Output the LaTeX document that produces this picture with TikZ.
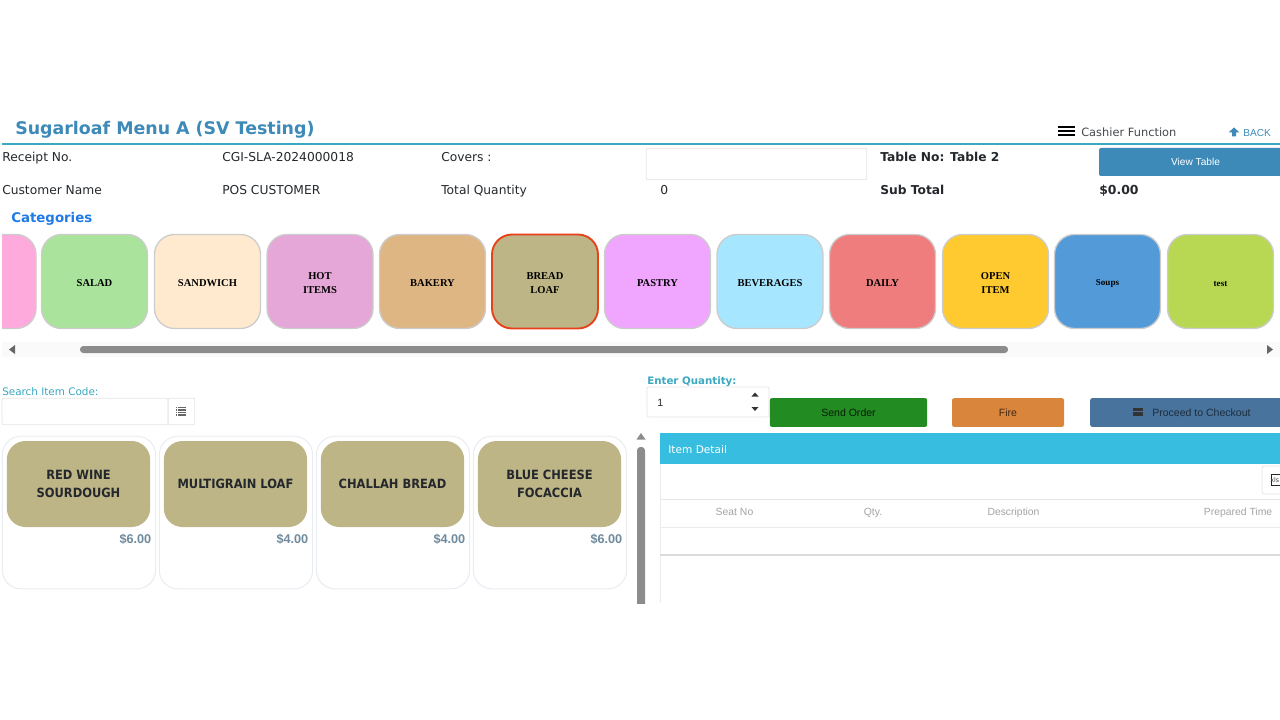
\documentclass[tikz,border=0pt]{standalone}
\usepackage{fontspec}
\usepackage{xcolor}
\usetikzlibrary{positioning, shapes.geometric}
\setmainfont{DejaVu Sans}
\newfontfamily\tilefont{Liberation Serif}
\newfontfamily\btnfont{Liberation Sans}
\newfontfamily\itemfont{DejaVu Sans Condensed}[BoldFont={DejaVu Sans Condensed Bold}]
\newcommand{\fsize}[2][12]{\fontsize{#2}{#1}\selectfont}
\newcommand{\tilestrut}{\rule{0pt}{7.4pt}}
\definecolor{rulecol}{HTML}{3AA8C0}
\definecolor{titleblue}{HTML}{3D8AB8}
\definecolor{catblue}{HTML}{1F7AE8}
\definecolor{loaf}{HTML}{BDB586}
\definecolor{cardline}{HTML}{E9EDF2}
\definecolor{ink}{HTML}{24282C}
\definecolor{headtext}{HTML}{A3A3A3}
\definecolor{pricegray}{HTML}{6E8A9C}
\definecolor{tilepink}{HTML}{FFAADC}
\definecolor{tilesalad}{HTML}{AAE49C}
\definecolor{tilesand}{HTML}{FFEACF}
\definecolor{tilehot}{HTML}{E5A6D8}
\definecolor{tilebakery}{HTML}{DEB684}
\definecolor{tilepastry}{HTML}{F0A6FF}
\definecolor{tilebev}{HTML}{A6E6FF}
\definecolor{tiledaily}{HTML}{F07D7D}
\definecolor{tileopen}{HTML}{FFCA30}
\definecolor{tilesoups}{HTML}{529BD8}
\definecolor{tiletest}{HTML}{B8D854}
\definecolor{sendgreen}{HTML}{228B22}
\definecolor{fireorange}{HTML}{D9853B}
\definecolor{payblue}{HTML}{48739C}
\definecolor{detailblue}{HTML}{36BDE0}

\begin{document}
\begin{tikzpicture}[
  x=0.75pt, y=-0.75pt,
  tile/.style={
    rectangle,
    draw=black!20,
    line width=1pt,
    fill=#1,
    minimum width=79.5pt,
    minimum height=70.5pt,
    rounded corners=15pt,
    inner sep=0pt,
    font={\tilefont\bfseries\fsize[10.5]{7.9}},
    text=black,
    align=center
  },
  field/.style={
    font=\fsize{9.2},
    text=ink,
    anchor=base west,
    inner sep=0pt
  },
  strong/.style={
    font=\bfseries\fsize{9.2},
    text=ink,
    anchor=base west,
    inner sep=0pt
  },
  btn/.style={
    rectangle,
    fill=#1,
    rounded corners=1.5pt,
    inner sep=0pt,
    font=\btnfont\fsize{7.9}
  },
  card/.style={
    rectangle,
    draw=cardline,
    line width=0.8pt,
    fill=white,
    minimum width=115pt,
    minimum height=114.5pt,
    rounded corners=14pt
  },
  item/.style={
    rectangle,
    fill=loaf,
    minimum width=107.5pt,
    minimum height=64.5pt,
    rounded corners=14pt,
    inner sep=0pt,
    text=ink,
    font={\itemfont\bfseries\fsize[14]{9.55}},
    align=center
  },
  price/.style={
    anchor=east,
    inner sep=0pt,
    text=pricegray,
    font=\btnfont\bfseries\fsize{9.5}
  },
  head/.style={
    anchor=base,
    inner sep=0pt,
    text=headtext,
    font=\btnfont\fsize{7.8}
  },
  inputbox/.style={
    rectangle,
    draw=black!10,
    line width=0.6pt,
    fill=white,
    rounded corners=1.5pt,
    inner sep=0pt
  }
]
\useasboundingbox (0,0) rectangle (1280,720);
\clip (0,0) rectangle (1280,720);

% Page header
\node[anchor=base west, inner sep=0pt, text=titleblue, font=\bfseries\fsize{13.05}] (title) at (15,134.5) {Sugarloaf Menu A (SV Testing)};
\draw[rulecol, line width=1.5pt] (2,144.5) -- (1280,144.5);
\draw[black, line width=1.9pt] (1058,127) -- (1075,127) (1058,131) -- (1075,131) (1058,135) -- (1075,135);
\node[field, text=ink!85, font=\fsize{8.55}] (cashier) at (1081,136.5) {Cashier Function};
\fill[titleblue] (1234,127.5) -- (1239.5,132.5) -- (1236,132.5) -- (1236,136.5) -- (1232,136.5) -- (1232,132.5) -- (1228.5,132.5) -- cycle;
\node[anchor=base west, inner sep=0pt, text=titleblue, font=\btnfont\fsize{7.6}] (back) at (1243,136.5) {BACK};

% Receipt fields
\node[field] (receipt) at (2,162) {Receipt No.};
\node[field] (number) at (222,162) {CGI-SLA-2024000018};
\node[field] (covers) at (441,162) {Covers :};
\node[inputbox, minimum width=165.5pt, minimum height=23.5pt] (coverbox) at (756.5,164) {};
\node[strong] (table) at (880,162) {Table No: Table 2};
\node[btn=titleblue, text=white, font=\btnfont\fsize{7.6}, minimum width=144.75pt, minimum height=21pt] (view) at (1195.5,162) {View Table};
\node[field] (customer) at (2,195) {Customer Name};
\node[field] (pos) at (222,195) {POS CUSTOMER};
\node[field] (total) at (441,195) {Total Quantity};
\node[field] (zero) at (660,195) {0};
\node[strong] (subtotal) at (880,195) {Sub Total};
\node[strong, font=\bfseries\fsize{9.3}] (amount) at (1099,195) {\$0.00};
\node[anchor=base west, inner sep=0pt, text=catblue, font=\bfseries\fsize{10}] (categories) at (11,222.5) {Categories};

% Category tiles
\begin{scope}
\clip (2,225) rectangle (1280,340);
\node[tile=tilepink] (pink) at (-17,281.5) {};
\end{scope}
\node[tile=tilesalad] (salad) at (94.5,281.5) {\tilestrut SALAD};
\node[tile=tilesand] (sandwich) at (207.5,281.5) {\tilestrut SANDWICH};
\node[tile=tilehot] (hot) at (320,281.5) {\tilestrut HOT\\ITEMS};
\node[tile=tilebakery] (bakery) at (432.5,281.5) {\tilestrut BAKERY};
\node[tile=loaf, draw={rgb,255:red,232;green,64;blue,24}, line width=1.4pt] (bread) at (545,281.5) {\tilestrut BREAD\\LOAF};
\node[tile=tilepastry] (pastry) at (657.5,281.5) {\tilestrut PASTRY};
\node[tile=tilebev] (beverages) at (770,281.5) {\tilestrut BEVERAGES};
\node[tile=tiledaily] (daily) at (882.5,281.5) {\tilestrut DAILY};
\node[tile=tileopen] (open) at (995.5,281.5) {\tilestrut OPEN\\ITEM};
\node[tile=tilesoups, font=\tilefont\bfseries\fsize{6.8}] (soups) at (1107.5,281.5) {\tilestrut Soups};
\node[tile=tiletest, font=\tilefont\bfseries\fsize{6.8}] (testtile) at (1220.5,281.5) {\tilestrut test};

% Category scrollbar
\fill[black!2] (2,342) rectangle (1280,357);
\fill[black!45, rounded corners=2.5pt] (80,346) rectangle (1008,353);
\fill[black!60] (9,349.5) -- (15,345) -- (15,354) -- cycle;
\fill[black!60] (1273,349.5) -- (1267,345) -- (1267,354) -- cycle;

% Search box
\node[anchor=base west, inner sep=0pt, text=rulecol, font=\fsize{7.8}] (search) at (2,395) {Search Item Code:};
\node[inputbox, minimum width=124.5pt, minimum height=20pt] (searchbox) at (85,411.5) {};
\node[inputbox, minimum width=20pt, minimum height=20pt] (listbtn) at (181.5,411.5) {};
\draw[black!60, line width=0.9pt] (178,407.5) -- (186,407.5) (178,410) -- (186,410) (178,412.5) -- (186,412.5) (178,415) -- (186,415);
\draw[black!60, line width=0.9pt] (176,407.5) -- (177,407.5) (176,410) -- (177,410) (176,412.5) -- (177,412.5) (176,415) -- (177,415);

% Menu items
\node[card] (cardA) at (79,512.5) {};
\node[card] (cardB) at (236,512.5) {};
\node[card] (cardC) at (393,512.5) {};
\node[card] (cardD) at (550,512.5) {};
\node[item] (itemA) at (78.5,484) {RED WINE\\SOURDOUGH};
\node[item] (itemB) at (235.5,484) {MULTIGRAIN LOAF};
\node[item] (itemC) at (392.5,484) {CHALLAH BREAD};
\node[item] (itemD) at (549.5,484) {BLUE CHEESE\\FOCACCIA};
\node[price] (priceA) at (151.5,539) {\$6.00};
\node[price] (priceB) at (308.5,539) {\$4.00};
\node[price] (priceC) at (465.5,539) {\$4.00};
\node[price] (priceD) at (622.5,539) {\$6.00};

% Item scrollbar
\begin{scope}
\clip (630,430) rectangle (650,603);
\fill[black!45, rounded corners=2.5pt] (637,447) rectangle (645,610);
\fill[black!45] (641,433) -- (645.5,439.5) -- (636.5,439.5) -- cycle;
\end{scope}

% Order controls
\node[anchor=base west, inner sep=0pt, text=rulecol, font=\bfseries\fsize{7.7}] (enter) at (647,384.5) {Enter Quantity:};
\node[inputbox, minimum width=91.5pt, minimum height=22.5pt] (qtybox) at (708,402) {};
\node[anchor=base west, inner sep=0pt, text=ink, font=\btnfont\fsize{7.9}] (qty) at (657,406) {1};
\fill[black!80] (755,392.5) -- (758.5,396.5) -- (751.5,396.5) -- cycle;
\fill[black!80] (755,411) -- (758.5,407) -- (751.5,407) -- cycle;
\node[btn=sendgreen, text=black!80!sendgreen, minimum width=118pt, minimum height=21.5pt] (send) at (848.5,412.5) {Send Order};
\node[btn=fireorange, text=black!70!fireorange, minimum width=84pt, minimum height=21.5pt] (fire) at (1008,412.5) {Fire};
\node[btn=payblue, minimum width=146pt, minimum height=21.5pt] (checkout) at (1187.5,412.5) {};
\node[anchor=west, inner sep=0pt, text=black!60!payblue, font=\btnfont\fsize{7.9}] (checkouttext) at (1152,412.5) {Proceed to Checkout};
\fill[black!80] (1133,408) rectangle (1143,416);
\fill[payblue] (1133,410.5) rectangle (1143,411.5);

% Item detail table
\node[rectangle, fill=detailblue, minimum width=465pt, minimum height=23.5pt, inner sep=0pt] (detail) at (970,448.5) {};
\node[anchor=base west, inner sep=0pt, text=white, font=\fsize{7.95}] (detailtext) at (668,453.5) {Item Detail};
\draw[black!8, line width=0.6pt] (660.5,464) -- (660.5,603);
\draw[black!10, line width=0.7pt] (660,499.5) -- (1280,499.5);
\draw[black!8, line width=0.7pt] (660,527) -- (1280,527);
\draw[black!14, line width=0.9pt] (660,555) -- (1280,555);
\node[inputbox, minimum width=30pt, minimum height=21pt] (xlsbtn) at (1282,480) {};
\draw[black!85, line width=0.7pt] (1271,474.5) -- (1280,474.5) (1271,485.5) -- (1280,485.5) (1271.5,474.5) -- (1271.5,485.5);
\node[anchor=west, inner sep=0pt, text=black!75, font=\fsize{4.8}] (xls) at (1270,480) {xls};
\node[head] (seat) at (734.5,515.5) {Seat No};
\node[head] (qtyhead) at (873,515.5) {Qty.};
\node[head] (desc) at (1013.5,515.5) {Description};
\node[head, anchor=base east] (prep) at (1272.5,515.5) {Prepared Time};
\end{tikzpicture}
\end{document}
